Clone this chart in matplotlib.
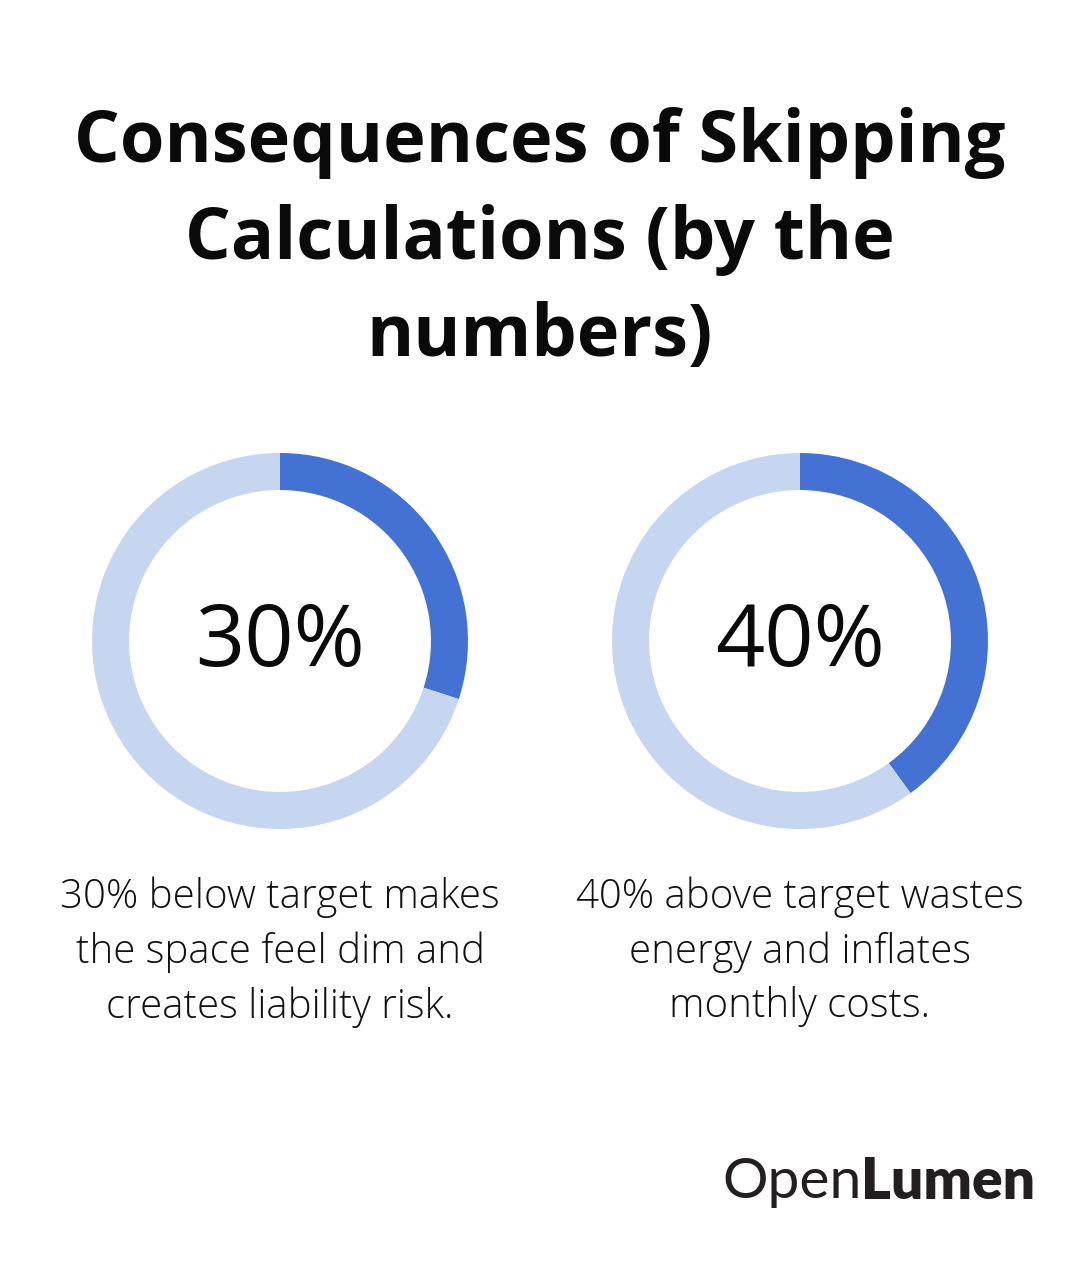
import matplotlib
matplotlib.use("Agg")
import matplotlib.pyplot as plt

title = "Consequences of Skipping\nCalculations (by the\nnumbers)"
values = [30, 40]
labels = ["30%", "40%"]
descriptions = [
    "30% below target makes\nthe space feel dim and\ncreates liability risk.",
    "40% above target wastes\nenergy and inflates\nmonthly costs.",
]

W, H = 1080, 1262
fig = plt.figure(figsize=(W / 100, H / 100), dpi=100)
fig.patch.set_facecolor("white")

BLUE = "#4472D4"
LIGHT = "#C6D6F1"

base = fig.add_axes([0, 0, 1, 1])
base.set_xlim(0, W)
base.set_ylim(H, 0)
base.axis("off")

base.text(540, 240, title, ha="center", va="center", fontsize=51.8,
          fontweight="bold", family="Open Sans", linespacing=1.45, color="#0a0a0a")

centers = [280, 800]
cy = 641
R = 188
for cx, v, lab, desc in zip(centers, values, labels, descriptions):
    ax = fig.add_axes([(cx - R) / W, (H - cy - R) / H, 2 * R / W, 2 * R / H])
    ax.pie([v, 100 - v], colors=[BLUE, LIGHT], startangle=90, counterclock=False,
           radius=1, wedgeprops=dict(width=0.197, edgecolor="none"))
    ax.set_xlim(-1, 1)
    ax.set_ylim(-1, 1)
    ax.set_aspect("equal")
    ax.axis("off")
    base.text(cx, cy + 3, lab, ha="center", va="center", fontsize=62,
              family="Open Sans", color="#0a0a0a")
    base.text(cx, 952, desc, ha="center", va="center", fontsize=28.9,
              family="Open Sans", fontweight="light", linespacing=1.43, color="#111111")

open_txt = base.text(722, 1182, "Open", ha="left", va="center", fontsize=41,
                     family="Lato", color="#231f20")
fig.canvas.draw()
r = fig.canvas.get_renderer()
bb = open_txt.get_window_extent(r)
x_end = base.transData.inverted().transform((bb.x1, bb.y0))[0]
base.text(x_end, 1182, "Lumen", ha="left", va="center", fontsize=41,
          family="Lato", fontweight="heavy", color="#231f20")

fig.savefig("out.png", dpi=100, facecolor="white")
